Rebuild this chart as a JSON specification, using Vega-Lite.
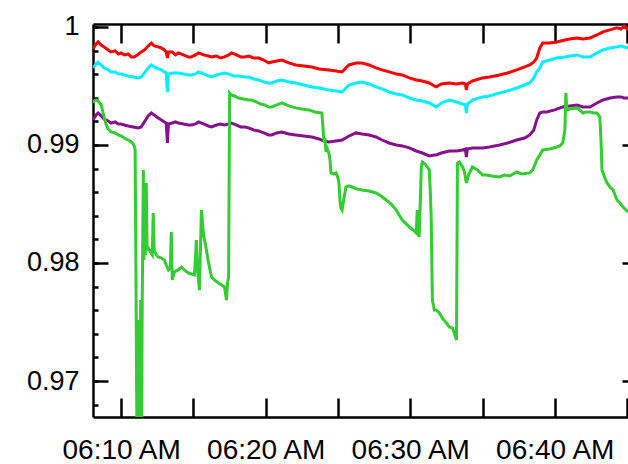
{
  "width": 535,
  "height": 393,
  "autosize": "none",
  "padding": {"left": 93, "top": 24, "right": 0, "bottom": 47},
  "config": {
    "view": {"stroke": null},
    "axis": {"grid": false, "domainColor": "black", "tickColor": "black", "labelColor": "black", "labelFont": "Liberation Sans", "labelFontSize": 27, "domainWidth": 2.5, "tickWidth": 2.5}
  },
  "data": {
    "values": [
      {"s":"r","t":"2020-01-01T06:08:03","v":0.99814},{"s":"r","t":"2020-01-01T06:08:16","v":0.99856},{"s":"r","t":"2020-01-01T06:08:24","v":0.99873},{"s":"r","t":"2020-01-01T06:08:37","v":0.99847},{"s":"r","t":"2020-01-01T06:08:49","v":0.99831},{"s":"r","t":"2020-01-01T06:09:06","v":0.99805},{"s":"r","t":"2020-01-01T06:09:18","v":0.99788},{"s":"r","t":"2020-01-01T06:09:35","v":0.99797},{"s":"r","t":"2020-01-01T06:09:48","v":0.99771},{"s":"r","t":"2020-01-01T06:10:00","v":0.9978},{"s":"r","t":"2020-01-01T06:10:13","v":0.99763},{"s":"r","t":"2020-01-01T06:10:29","v":0.99771},{"s":"r","t":"2020-01-01T06:10:42","v":0.99746},{"s":"r","t":"2020-01-01T06:10:54","v":0.99746},{"s":"r","t":"2020-01-01T06:11:07","v":0.99763},{"s":"r","t":"2020-01-01T06:11:23","v":0.99788},{"s":"r","t":"2020-01-01T06:11:36","v":0.99805},{"s":"r","t":"2020-01-01T06:11:52","v":0.99839},{"s":"r","t":"2020-01-01T06:12:05","v":0.99864},{"s":"r","t":"2020-01-01T06:12:17","v":0.99839},{"s":"r","t":"2020-01-01T06:12:34","v":0.99831},{"s":"r","t":"2020-01-01T06:12:47","v":0.99822},{"s":"r","t":"2020-01-01T06:12:59","v":0.99805},{"s":"r","t":"2020-01-01T06:13:07","v":0.99788},{"s":"r","t":"2020-01-01T06:13:12","v":0.99737},{"s":"r","t":"2020-01-01T06:13:16","v":0.99788},{"s":"r","t":"2020-01-01T06:13:32","v":0.99788},{"s":"r","t":"2020-01-01T06:13:45","v":0.99763},{"s":"r","t":"2020-01-01T06:13:57","v":0.9978},{"s":"r","t":"2020-01-01T06:14:18","v":0.99763},{"s":"r","t":"2020-01-01T06:14:39","v":0.99746},{"s":"r","t":"2020-01-01T06:14:52","v":0.99746},{"s":"r","t":"2020-01-01T06:15:08","v":0.99763},{"s":"r","t":"2020-01-01T06:15:21","v":0.9978},{"s":"r","t":"2020-01-01T06:15:42","v":0.99763},{"s":"r","t":"2020-01-01T06:16:02","v":0.99754},{"s":"r","t":"2020-01-01T06:16:15","v":0.99746},{"s":"r","t":"2020-01-01T06:16:36","v":0.99754},{"s":"r","t":"2020-01-01T06:16:52","v":0.99737},{"s":"r","t":"2020-01-01T06:17:09","v":0.99746},{"s":"r","t":"2020-01-01T06:17:26","v":0.99763},{"s":"r","t":"2020-01-01T06:17:38","v":0.9978},{"s":"r","t":"2020-01-01T06:17:59","v":0.99763},{"s":"r","t":"2020-01-01T06:18:16","v":0.99746},{"s":"r","t":"2020-01-01T06:18:32","v":0.99746},{"s":"r","t":"2020-01-01T06:18:49","v":0.99754},{"s":"r","t":"2020-01-01T06:19:10","v":0.99737},{"s":"r","t":"2020-01-01T06:19:31","v":0.99737},{"s":"r","t":"2020-01-01T06:19:52","v":0.9972},{"s":"r","t":"2020-01-01T06:20:12","v":0.99695},{"s":"r","t":"2020-01-01T06:20:25","v":0.99703},{"s":"r","t":"2020-01-01T06:20:46","v":0.99712},{"s":"r","t":"2020-01-01T06:21:07","v":0.9972},{"s":"r","t":"2020-01-01T06:21:36","v":0.99695},{"s":"r","t":"2020-01-01T06:22:05","v":0.99678},{"s":"r","t":"2020-01-01T06:22:38","v":0.99669},{"s":"r","t":"2020-01-01T06:23:12","v":0.99661},{"s":"r","t":"2020-01-01T06:23:41","v":0.99644},{"s":"r","t":"2020-01-01T06:24:22","v":0.99636},{"s":"r","t":"2020-01-01T06:24:52","v":0.99627},{"s":"r","t":"2020-01-01T06:25:17","v":0.99619},{"s":"r","t":"2020-01-01T06:25:33","v":0.99653},{"s":"r","t":"2020-01-01T06:25:46","v":0.99678},{"s":"r","t":"2020-01-01T06:26:15","v":0.99695},{"s":"r","t":"2020-01-01T06:26:40","v":0.99695},{"s":"r","t":"2020-01-01T06:27:09","v":0.99678},{"s":"r","t":"2020-01-01T06:27:38","v":0.99653},{"s":"r","t":"2020-01-01T06:28:03","v":0.99636},{"s":"r","t":"2020-01-01T06:28:32","v":0.99619},{"s":"r","t":"2020-01-01T06:29:02","v":0.99602},{"s":"r","t":"2020-01-01T06:29:27","v":0.99593},{"s":"r","t":"2020-01-01T06:29:56","v":0.99568},{"s":"r","t":"2020-01-01T06:30:25","v":0.99551},{"s":"r","t":"2020-01-01T06:30:50","v":0.99542},{"s":"r","t":"2020-01-01T06:31:19","v":0.99525},{"s":"r","t":"2020-01-01T06:31:40","v":0.995},{"s":"r","t":"2020-01-01T06:31:48","v":0.99492},{"s":"r","t":"2020-01-01T06:32:09","v":0.99517},{"s":"r","t":"2020-01-01T06:32:42","v":0.99525},{"s":"r","t":"2020-01-01T06:33:12","v":0.99517},{"s":"r","t":"2020-01-01T06:33:37","v":0.99525},{"s":"r","t":"2020-01-01T06:33:49","v":0.99517},{"s":"r","t":"2020-01-01T06:33:53","v":0.99466},{"s":"r","t":"2020-01-01T06:33:57","v":0.99517},{"s":"r","t":"2020-01-01T06:34:18","v":0.99542},{"s":"r","t":"2020-01-01T06:35:00","v":0.99568},{"s":"r","t":"2020-01-01T06:35:29","v":0.99576},{"s":"r","t":"2020-01-01T06:36:11","v":0.99593},{"s":"r","t":"2020-01-01T06:36:44","v":0.9961},{"s":"r","t":"2020-01-01T06:37:22","v":0.99636},{"s":"r","t":"2020-01-01T06:37:55","v":0.99661},{"s":"r","t":"2020-01-01T06:38:16","v":0.99678},{"s":"r","t":"2020-01-01T06:38:33","v":0.99703},{"s":"r","t":"2020-01-01T06:38:45","v":0.99737},{"s":"r","t":"2020-01-01T06:38:58","v":0.99822},{"s":"r","t":"2020-01-01T06:39:10","v":0.99864},{"s":"r","t":"2020-01-01T06:39:39","v":0.99864},{"s":"r","t":"2020-01-01T06:40:08","v":0.99873},{"s":"r","t":"2020-01-01T06:40:42","v":0.9989},{"s":"r","t":"2020-01-01T06:41:02","v":0.99898},{"s":"r","t":"2020-01-01T06:41:32","v":0.99907},{"s":"r","t":"2020-01-01T06:41:57","v":0.99898},{"s":"r","t":"2020-01-01T06:42:26","v":0.99907},{"s":"r","t":"2020-01-01T06:42:55","v":0.99932},{"s":"r","t":"2020-01-01T06:43:20","v":0.99958},{"s":"r","t":"2020-01-01T06:43:49","v":0.99975},{"s":"r","t":"2020-01-01T06:44:18","v":0.99992},{"s":"r","t":"2020-01-01T06:44:35","v":0.99983},{"s":"r","t":"2020-01-01T06:44:47","v":1.00008},{"s":"r","t":"2020-01-01T06:45:04","v":0.99975},
      {"s":"c","t":"2020-01-01T06:08:03","v":0.99653},{"s":"c","t":"2020-01-01T06:08:16","v":0.99686},{"s":"c","t":"2020-01-01T06:08:24","v":0.99703},{"s":"c","t":"2020-01-01T06:08:37","v":0.99678},{"s":"c","t":"2020-01-01T06:08:49","v":0.99653},{"s":"c","t":"2020-01-01T06:09:06","v":0.99636},{"s":"c","t":"2020-01-01T06:09:18","v":0.99619},{"s":"c","t":"2020-01-01T06:09:35","v":0.99619},{"s":"c","t":"2020-01-01T06:09:48","v":0.99602},{"s":"c","t":"2020-01-01T06:10:00","v":0.99602},{"s":"c","t":"2020-01-01T06:10:13","v":0.99593},{"s":"c","t":"2020-01-01T06:10:29","v":0.99585},{"s":"c","t":"2020-01-01T06:10:50","v":0.99576},{"s":"c","t":"2020-01-01T06:11:11","v":0.99568},{"s":"c","t":"2020-01-01T06:11:23","v":0.99576},{"s":"c","t":"2020-01-01T06:11:36","v":0.9961},{"s":"c","t":"2020-01-01T06:11:52","v":0.99653},{"s":"c","t":"2020-01-01T06:12:05","v":0.99678},{"s":"c","t":"2020-01-01T06:12:17","v":0.99661},{"s":"c","t":"2020-01-01T06:12:34","v":0.99644},{"s":"c","t":"2020-01-01T06:12:47","v":0.99636},{"s":"c","t":"2020-01-01T06:12:59","v":0.99619},{"s":"c","t":"2020-01-01T06:13:07","v":0.9961},{"s":"c","t":"2020-01-01T06:13:12","v":0.99449},{"s":"c","t":"2020-01-01T06:13:16","v":0.99602},{"s":"c","t":"2020-01-01T06:13:32","v":0.9961},{"s":"c","t":"2020-01-01T06:13:45","v":0.9961},{"s":"c","t":"2020-01-01T06:13:57","v":0.9961},{"s":"c","t":"2020-01-01T06:14:18","v":0.99602},{"s":"c","t":"2020-01-01T06:14:39","v":0.99593},{"s":"c","t":"2020-01-01T06:14:52","v":0.99593},{"s":"c","t":"2020-01-01T06:15:08","v":0.99602},{"s":"c","t":"2020-01-01T06:15:21","v":0.99619},{"s":"c","t":"2020-01-01T06:15:42","v":0.99602},{"s":"c","t":"2020-01-01T06:16:02","v":0.99585},{"s":"c","t":"2020-01-01T06:16:15","v":0.99576},{"s":"c","t":"2020-01-01T06:16:36","v":0.99593},{"s":"c","t":"2020-01-01T06:16:52","v":0.99602},{"s":"c","t":"2020-01-01T06:17:09","v":0.9961},{"s":"c","t":"2020-01-01T06:17:26","v":0.99602},{"s":"c","t":"2020-01-01T06:17:47","v":0.99585},{"s":"c","t":"2020-01-01T06:18:07","v":0.99585},{"s":"c","t":"2020-01-01T06:18:32","v":0.99576},{"s":"c","t":"2020-01-01T06:18:49","v":0.99576},{"s":"c","t":"2020-01-01T06:19:10","v":0.99559},{"s":"c","t":"2020-01-01T06:19:31","v":0.99551},{"s":"c","t":"2020-01-01T06:19:52","v":0.99534},{"s":"c","t":"2020-01-01T06:20:12","v":0.99525},{"s":"c","t":"2020-01-01T06:20:25","v":0.99525},{"s":"c","t":"2020-01-01T06:20:46","v":0.99542},{"s":"c","t":"2020-01-01T06:21:07","v":0.99551},{"s":"c","t":"2020-01-01T06:21:36","v":0.99534},{"s":"c","t":"2020-01-01T06:22:05","v":0.99525},{"s":"c","t":"2020-01-01T06:22:38","v":0.99508},{"s":"c","t":"2020-01-01T06:23:12","v":0.99492},{"s":"c","t":"2020-01-01T06:23:41","v":0.99483},{"s":"c","t":"2020-01-01T06:24:22","v":0.99466},{"s":"c","t":"2020-01-01T06:24:52","v":0.99458},{"s":"c","t":"2020-01-01T06:25:17","v":0.99449},{"s":"c","t":"2020-01-01T06:25:33","v":0.99483},{"s":"c","t":"2020-01-01T06:25:46","v":0.99508},{"s":"c","t":"2020-01-01T06:26:15","v":0.99525},{"s":"c","t":"2020-01-01T06:26:40","v":0.99534},{"s":"c","t":"2020-01-01T06:27:09","v":0.99517},{"s":"c","t":"2020-01-01T06:27:38","v":0.99492},{"s":"c","t":"2020-01-01T06:28:03","v":0.99475},{"s":"c","t":"2020-01-01T06:28:32","v":0.99449},{"s":"c","t":"2020-01-01T06:29:02","v":0.99432},{"s":"c","t":"2020-01-01T06:29:27","v":0.99424},{"s":"c","t":"2020-01-01T06:29:56","v":0.99398},{"s":"c","t":"2020-01-01T06:30:25","v":0.99381},{"s":"c","t":"2020-01-01T06:30:50","v":0.99373},{"s":"c","t":"2020-01-01T06:31:19","v":0.99356},{"s":"c","t":"2020-01-01T06:31:40","v":0.99331},{"s":"c","t":"2020-01-01T06:31:48","v":0.99322},{"s":"c","t":"2020-01-01T06:32:09","v":0.99356},{"s":"c","t":"2020-01-01T06:32:42","v":0.99381},{"s":"c","t":"2020-01-01T06:33:12","v":0.99364},{"s":"c","t":"2020-01-01T06:33:37","v":0.99347},{"s":"c","t":"2020-01-01T06:33:49","v":0.99339},{"s":"c","t":"2020-01-01T06:33:53","v":0.99271},{"s":"c","t":"2020-01-01T06:33:57","v":0.99347},{"s":"c","t":"2020-01-01T06:34:18","v":0.99381},{"s":"c","t":"2020-01-01T06:35:00","v":0.99407},{"s":"c","t":"2020-01-01T06:35:29","v":0.99415},{"s":"c","t":"2020-01-01T06:36:11","v":0.99441},{"s":"c","t":"2020-01-01T06:36:44","v":0.99458},{"s":"c","t":"2020-01-01T06:37:22","v":0.99483},{"s":"c","t":"2020-01-01T06:37:55","v":0.99508},{"s":"c","t":"2020-01-01T06:38:16","v":0.99525},{"s":"c","t":"2020-01-01T06:38:33","v":0.99568},{"s":"c","t":"2020-01-01T06:38:45","v":0.99619},{"s":"c","t":"2020-01-01T06:38:58","v":0.99653},{"s":"c","t":"2020-01-01T06:39:10","v":0.99703},{"s":"c","t":"2020-01-01T06:39:39","v":0.9972},{"s":"c","t":"2020-01-01T06:40:08","v":0.99737},{"s":"c","t":"2020-01-01T06:40:42","v":0.99746},{"s":"c","t":"2020-01-01T06:41:02","v":0.99754},{"s":"c","t":"2020-01-01T06:41:32","v":0.99763},{"s":"c","t":"2020-01-01T06:41:57","v":0.99746},{"s":"c","t":"2020-01-01T06:42:26","v":0.99746},{"s":"c","t":"2020-01-01T06:42:55","v":0.9978},{"s":"c","t":"2020-01-01T06:43:20","v":0.99805},{"s":"c","t":"2020-01-01T06:43:49","v":0.99822},{"s":"c","t":"2020-01-01T06:44:18","v":0.99831},{"s":"c","t":"2020-01-01T06:44:35","v":0.99839},{"s":"c","t":"2020-01-01T06:44:47","v":0.99831},{"s":"c","t":"2020-01-01T06:45:04","v":0.99822},
      {"s":"p","t":"2020-01-01T06:08:03","v":0.99212},{"s":"p","t":"2020-01-01T06:08:16","v":0.99254},{"s":"p","t":"2020-01-01T06:08:24","v":0.99271},{"s":"p","t":"2020-01-01T06:08:37","v":0.99246},{"s":"p","t":"2020-01-01T06:08:49","v":0.9922},{"s":"p","t":"2020-01-01T06:09:06","v":0.99203},{"s":"p","t":"2020-01-01T06:09:18","v":0.99186},{"s":"p","t":"2020-01-01T06:09:35","v":0.99195},{"s":"p","t":"2020-01-01T06:09:48","v":0.99178},{"s":"p","t":"2020-01-01T06:10:00","v":0.99178},{"s":"p","t":"2020-01-01T06:10:13","v":0.99169},{"s":"p","t":"2020-01-01T06:10:29","v":0.99161},{"s":"p","t":"2020-01-01T06:10:50","v":0.99153},{"s":"p","t":"2020-01-01T06:11:11","v":0.99144},{"s":"p","t":"2020-01-01T06:11:23","v":0.99153},{"s":"p","t":"2020-01-01T06:11:36","v":0.99195},{"s":"p","t":"2020-01-01T06:11:52","v":0.99246},{"s":"p","t":"2020-01-01T06:12:05","v":0.99271},{"s":"p","t":"2020-01-01T06:12:17","v":0.99254},{"s":"p","t":"2020-01-01T06:12:34","v":0.99229},{"s":"p","t":"2020-01-01T06:12:47","v":0.99212},{"s":"p","t":"2020-01-01T06:12:59","v":0.99195},{"s":"p","t":"2020-01-01T06:13:07","v":0.99186},{"s":"p","t":"2020-01-01T06:13:12","v":0.99017},{"s":"p","t":"2020-01-01T06:13:16","v":0.99178},{"s":"p","t":"2020-01-01T06:13:32","v":0.99186},{"s":"p","t":"2020-01-01T06:13:45","v":0.99195},{"s":"p","t":"2020-01-01T06:13:57","v":0.99186},{"s":"p","t":"2020-01-01T06:14:18","v":0.99178},{"s":"p","t":"2020-01-01T06:14:39","v":0.99169},{"s":"p","t":"2020-01-01T06:14:52","v":0.99169},{"s":"p","t":"2020-01-01T06:15:08","v":0.99178},{"s":"p","t":"2020-01-01T06:15:21","v":0.99195},{"s":"p","t":"2020-01-01T06:15:42","v":0.99178},{"s":"p","t":"2020-01-01T06:16:02","v":0.99161},{"s":"p","t":"2020-01-01T06:16:15","v":0.99153},{"s":"p","t":"2020-01-01T06:16:36","v":0.99169},{"s":"p","t":"2020-01-01T06:16:52","v":0.99178},{"s":"p","t":"2020-01-01T06:17:09","v":0.99169},{"s":"p","t":"2020-01-01T06:17:26","v":0.99178},{"s":"p","t":"2020-01-01T06:17:38","v":0.99186},{"s":"p","t":"2020-01-01T06:17:59","v":0.99169},{"s":"p","t":"2020-01-01T06:18:16","v":0.99153},{"s":"p","t":"2020-01-01T06:18:32","v":0.99153},{"s":"p","t":"2020-01-01T06:18:49","v":0.99144},{"s":"p","t":"2020-01-01T06:19:10","v":0.99127},{"s":"p","t":"2020-01-01T06:19:31","v":0.99119},{"s":"p","t":"2020-01-01T06:19:52","v":0.99102},{"s":"p","t":"2020-01-01T06:20:12","v":0.99085},{"s":"p","t":"2020-01-01T06:20:25","v":0.99085},{"s":"p","t":"2020-01-01T06:20:46","v":0.99102},{"s":"p","t":"2020-01-01T06:21:07","v":0.9911},{"s":"p","t":"2020-01-01T06:21:36","v":0.99093},{"s":"p","t":"2020-01-01T06:22:05","v":0.99085},{"s":"p","t":"2020-01-01T06:22:38","v":0.99076},{"s":"p","t":"2020-01-01T06:23:12","v":0.99068},{"s":"p","t":"2020-01-01T06:23:41","v":0.99051},{"s":"p","t":"2020-01-01T06:24:02","v":0.99034},{"s":"p","t":"2020-01-01T06:24:22","v":0.99025},{"s":"p","t":"2020-01-01T06:24:52","v":0.99034},{"s":"p","t":"2020-01-01T06:25:17","v":0.99042},{"s":"p","t":"2020-01-01T06:25:46","v":0.99076},{"s":"p","t":"2020-01-01T06:26:15","v":0.99102},{"s":"p","t":"2020-01-01T06:26:40","v":0.99093},{"s":"p","t":"2020-01-01T06:27:09","v":0.99085},{"s":"p","t":"2020-01-01T06:27:38","v":0.99068},{"s":"p","t":"2020-01-01T06:28:03","v":0.99042},{"s":"p","t":"2020-01-01T06:28:32","v":0.99017},{"s":"p","t":"2020-01-01T06:29:02","v":0.99},{"s":"p","t":"2020-01-01T06:29:27","v":0.98992},{"s":"p","t":"2020-01-01T06:29:56","v":0.98975},{"s":"p","t":"2020-01-01T06:30:25","v":0.98949},{"s":"p","t":"2020-01-01T06:30:50","v":0.98932},{"s":"p","t":"2020-01-01T06:31:19","v":0.98907},{"s":"p","t":"2020-01-01T06:31:40","v":0.98915},{"s":"p","t":"2020-01-01T06:31:48","v":0.98915},{"s":"p","t":"2020-01-01T06:32:09","v":0.98932},{"s":"p","t":"2020-01-01T06:32:42","v":0.98949},{"s":"p","t":"2020-01-01T06:33:12","v":0.98949},{"s":"p","t":"2020-01-01T06:33:37","v":0.98958},{"s":"p","t":"2020-01-01T06:33:49","v":0.98966},{"s":"p","t":"2020-01-01T06:33:53","v":0.98898},{"s":"p","t":"2020-01-01T06:33:57","v":0.98966},{"s":"p","t":"2020-01-01T06:34:18","v":0.98975},{"s":"p","t":"2020-01-01T06:35:00","v":0.98975},{"s":"p","t":"2020-01-01T06:35:29","v":0.98983},{"s":"p","t":"2020-01-01T06:36:11","v":0.99},{"s":"p","t":"2020-01-01T06:36:44","v":0.99017},{"s":"p","t":"2020-01-01T06:37:22","v":0.99042},{"s":"p","t":"2020-01-01T06:37:55","v":0.99059},{"s":"p","t":"2020-01-01T06:38:16","v":0.99085},{"s":"p","t":"2020-01-01T06:38:33","v":0.99127},{"s":"p","t":"2020-01-01T06:38:45","v":0.99212},{"s":"p","t":"2020-01-01T06:38:58","v":0.99271},{"s":"p","t":"2020-01-01T06:39:10","v":0.9928},{"s":"p","t":"2020-01-01T06:39:27","v":0.9928},{"s":"p","t":"2020-01-01T06:40:00","v":0.99297},{"s":"p","t":"2020-01-01T06:40:33","v":0.99322},{"s":"p","t":"2020-01-01T06:41:02","v":0.99331},{"s":"p","t":"2020-01-01T06:41:32","v":0.99339},{"s":"p","t":"2020-01-01T06:41:57","v":0.99322},{"s":"p","t":"2020-01-01T06:42:26","v":0.99322},{"s":"p","t":"2020-01-01T06:42:55","v":0.99356},{"s":"p","t":"2020-01-01T06:43:20","v":0.99381},{"s":"p","t":"2020-01-01T06:43:49","v":0.99398},{"s":"p","t":"2020-01-01T06:44:18","v":0.99407},{"s":"p","t":"2020-01-01T06:44:35","v":0.99407},{"s":"p","t":"2020-01-01T06:44:47","v":0.99398},{"s":"p","t":"2020-01-01T06:45:04","v":0.99398},
      {"s":"g","t":"2020-01-01T06:08:03","v":0.99356},{"s":"g","t":"2020-01-01T06:08:08","v":0.99373},{"s":"g","t":"2020-01-01T06:08:16","v":0.99381},{"s":"g","t":"2020-01-01T06:08:24","v":0.99373},{"s":"g","t":"2020-01-01T06:08:37","v":0.99339},{"s":"g","t":"2020-01-01T06:08:45","v":0.99271},{"s":"g","t":"2020-01-01T06:08:58","v":0.99169},{"s":"g","t":"2020-01-01T06:09:06","v":0.99136},{"s":"g","t":"2020-01-01T06:09:18","v":0.9911},{"s":"g","t":"2020-01-01T06:09:35","v":0.99102},{"s":"g","t":"2020-01-01T06:09:48","v":0.99085},{"s":"g","t":"2020-01-01T06:10:00","v":0.99076},{"s":"g","t":"2020-01-01T06:10:13","v":0.99059},{"s":"g","t":"2020-01-01T06:10:29","v":0.99042},{"s":"g","t":"2020-01-01T06:10:42","v":0.99025},{"s":"g","t":"2020-01-01T06:10:50","v":0.99008},{"s":"g","t":"2020-01-01T06:10:54","v":0.98992},{"s":"g","t":"2020-01-01T06:10:58","v":0.98958},{"s":"g","t":"2020-01-01T06:11:02","v":0.97686},{"s":"g","t":"2020-01-01T06:11:05","v":0.96627},{"s":"g","t":"2020-01-01T06:11:07","v":0.96585},{"s":"g","t":"2020-01-01T06:11:11","v":0.97517},{"s":"g","t":"2020-01-01T06:11:13","v":0.96627},{"s":"g","t":"2020-01-01T06:11:15","v":0.97432},{"s":"g","t":"2020-01-01T06:11:19","v":0.96585},{"s":"g","t":"2020-01-01T06:11:21","v":0.97686},{"s":"g","t":"2020-01-01T06:11:23","v":0.97432},{"s":"g","t":"2020-01-01T06:11:25","v":0.96585},{"s":"g","t":"2020-01-01T06:11:27","v":0.97559},{"s":"g","t":"2020-01-01T06:11:32","v":0.98788},{"s":"g","t":"2020-01-01T06:11:34","v":0.98025},{"s":"g","t":"2020-01-01T06:11:36","v":0.9811},{"s":"g","t":"2020-01-01T06:11:38","v":0.98661},{"s":"g","t":"2020-01-01T06:11:40","v":0.98068},{"s":"g","t":"2020-01-01T06:11:44","v":0.98678},{"s":"g","t":"2020-01-01T06:11:48","v":0.9811},{"s":"g","t":"2020-01-01T06:11:52","v":0.98127},{"s":"g","t":"2020-01-01T06:12:01","v":0.98093},{"s":"g","t":"2020-01-01T06:12:09","v":0.98068},{"s":"g","t":"2020-01-01T06:12:13","v":0.98424},{"s":"g","t":"2020-01-01T06:12:17","v":0.9811},{"s":"g","t":"2020-01-01T06:12:26","v":0.98068},{"s":"g","t":"2020-01-01T06:12:34","v":0.98051},{"s":"g","t":"2020-01-01T06:12:47","v":0.98042},{"s":"g","t":"2020-01-01T06:12:59","v":0.98025},{"s":"g","t":"2020-01-01T06:13:07","v":0.97983},{"s":"g","t":"2020-01-01T06:13:16","v":0.97941},{"s":"g","t":"2020-01-01T06:13:24","v":0.97958},{"s":"g","t":"2020-01-01T06:13:28","v":0.98263},{"s":"g","t":"2020-01-01T06:13:32","v":0.97856},{"s":"g","t":"2020-01-01T06:13:41","v":0.97924},{"s":"g","t":"2020-01-01T06:13:57","v":0.97941},{"s":"g","t":"2020-01-01T06:14:10","v":0.97966},{"s":"g","t":"2020-01-01T06:14:22","v":0.97941},{"s":"g","t":"2020-01-01T06:14:39","v":0.97915},{"s":"g","t":"2020-01-01T06:14:52","v":0.97907},{"s":"g","t":"2020-01-01T06:15:04","v":0.97898},{"s":"g","t":"2020-01-01T06:15:08","v":0.98025},{"s":"g","t":"2020-01-01T06:15:12","v":0.98195},{"s":"g","t":"2020-01-01T06:15:17","v":0.97941},{"s":"g","t":"2020-01-01T06:15:25","v":0.97771},{"s":"g","t":"2020-01-01T06:15:29","v":0.9811},{"s":"g","t":"2020-01-01T06:15:33","v":0.98449},{"s":"g","t":"2020-01-01T06:15:42","v":0.98237},{"s":"g","t":"2020-01-01T06:15:54","v":0.9811},{"s":"g","t":"2020-01-01T06:16:02","v":0.98008},{"s":"g","t":"2020-01-01T06:16:15","v":0.97881},{"s":"g","t":"2020-01-01T06:16:27","v":0.97856},{"s":"g","t":"2020-01-01T06:16:44","v":0.97831},{"s":"g","t":"2020-01-01T06:16:57","v":0.97814},{"s":"g","t":"2020-01-01T06:17:09","v":0.97797},{"s":"g","t":"2020-01-01T06:17:17","v":0.97686},{"s":"g","t":"2020-01-01T06:17:22","v":0.97839},{"s":"g","t":"2020-01-01T06:17:26","v":0.97881},{"s":"g","t":"2020-01-01T06:17:30","v":0.99441},{"s":"g","t":"2020-01-01T06:17:38","v":0.99424},{"s":"g","t":"2020-01-01T06:17:51","v":0.99415},{"s":"g","t":"2020-01-01T06:18:07","v":0.99398},{"s":"g","t":"2020-01-01T06:18:28","v":0.9939},{"s":"g","t":"2020-01-01T06:18:49","v":0.99381},{"s":"g","t":"2020-01-01T06:19:02","v":0.99381},{"s":"g","t":"2020-01-01T06:19:22","v":0.99364},{"s":"g","t":"2020-01-01T06:19:39","v":0.99347},{"s":"g","t":"2020-01-01T06:19:56","v":0.99339},{"s":"g","t":"2020-01-01T06:20:12","v":0.99322},{"s":"g","t":"2020-01-01T06:20:25","v":0.99322},{"s":"g","t":"2020-01-01T06:20:46","v":0.99339},{"s":"g","t":"2020-01-01T06:21:07","v":0.99356},{"s":"g","t":"2020-01-01T06:21:36","v":0.99331},{"s":"g","t":"2020-01-01T06:22:05","v":0.99314},{"s":"g","t":"2020-01-01T06:22:30","v":0.99305},{"s":"g","t":"2020-01-01T06:22:59","v":0.99297},{"s":"g","t":"2020-01-01T06:23:24","v":0.9928},{"s":"g","t":"2020-01-01T06:23:53","v":0.99271},{"s":"g","t":"2020-01-01T06:23:57","v":0.99169},{"s":"g","t":"2020-01-01T06:24:02","v":0.99025},{"s":"g","t":"2020-01-01T06:24:06","v":0.99059},{"s":"g","t":"2020-01-01T06:24:10","v":0.98941},{"s":"g","t":"2020-01-01T06:24:14","v":0.98975},{"s":"g","t":"2020-01-01T06:24:22","v":0.98932},{"s":"g","t":"2020-01-01T06:24:27","v":0.98873},{"s":"g","t":"2020-01-01T06:24:31","v":0.98763},{"s":"g","t":"2020-01-01T06:24:43","v":0.98754},{"s":"g","t":"2020-01-01T06:24:52","v":0.98763},{"s":"g","t":"2020-01-01T06:25:00","v":0.9872},{"s":"g","t":"2020-01-01T06:25:04","v":0.98678},{"s":"g","t":"2020-01-01T06:25:08","v":0.98534},{"s":"g","t":"2020-01-01T06:25:12","v":0.98466},{"s":"g","t":"2020-01-01T06:25:17","v":0.98449},{"s":"g","t":"2020-01-01T06:25:25","v":0.98551},{"s":"g","t":"2020-01-01T06:25:33","v":0.98644},{"s":"g","t":"2020-01-01T06:25:46","v":0.98653},{"s":"g","t":"2020-01-01T06:25:58","v":0.98644},{"s":"g","t":"2020-01-01T06:26:19","v":0.98627},{"s":"g","t":"2020-01-01T06:26:40","v":0.98619},{"s":"g","t":"2020-01-01T06:27:09","v":0.9861},{"s":"g","t":"2020-01-01T06:27:38","v":0.98593},{"s":"g","t":"2020-01-01T06:27:59","v":0.98568},{"s":"g","t":"2020-01-01T06:28:20","v":0.98534},{"s":"g","t":"2020-01-01T06:28:41","v":0.985},{"s":"g","t":"2020-01-01T06:29:02","v":0.98449},{"s":"g","t":"2020-01-01T06:29:14","v":0.98407},{"s":"g","t":"2020-01-01T06:29:27","v":0.98364},{"s":"g","t":"2020-01-01T06:29:43","v":0.98331},{"s":"g","t":"2020-01-01T06:29:56","v":0.98305},{"s":"g","t":"2020-01-01T06:30:12","v":0.9828},{"s":"g","t":"2020-01-01T06:30:25","v":0.98254},{"s":"g","t":"2020-01-01T06:30:29","v":0.98449},{"s":"g","t":"2020-01-01T06:30:33","v":0.98263},{"s":"g","t":"2020-01-01T06:30:37","v":0.9822},{"s":"g","t":"2020-01-01T06:30:42","v":0.98534},{"s":"g","t":"2020-01-01T06:30:46","v":0.98814},{"s":"g","t":"2020-01-01T06:30:50","v":0.98856},{"s":"g","t":"2020-01-01T06:31:02","v":0.98839},{"s":"g","t":"2020-01-01T06:31:19","v":0.98788},{"s":"g","t":"2020-01-01T06:31:23","v":0.98619},{"s":"g","t":"2020-01-01T06:31:27","v":0.9839},{"s":"g","t":"2020-01-01T06:31:32","v":0.97686},{"s":"g","t":"2020-01-01T06:31:40","v":0.97602},{"s":"g","t":"2020-01-01T06:31:48","v":0.97602},{"s":"g","t":"2020-01-01T06:32:01","v":0.97576},{"s":"g","t":"2020-01-01T06:32:13","v":0.97534},{"s":"g","t":"2020-01-01T06:32:30","v":0.97492},{"s":"g","t":"2020-01-01T06:32:42","v":0.97458},{"s":"g","t":"2020-01-01T06:32:55","v":0.97449},{"s":"g","t":"2020-01-01T06:33:03","v":0.97407},{"s":"g","t":"2020-01-01T06:33:12","v":0.97347},{"s":"g","t":"2020-01-01T06:33:16","v":0.98847},{"s":"g","t":"2020-01-01T06:33:24","v":0.98856},{"s":"g","t":"2020-01-01T06:33:37","v":0.98814},{"s":"g","t":"2020-01-01T06:33:45","v":0.98771},{"s":"g","t":"2020-01-01T06:33:53","v":0.98678},{"s":"g","t":"2020-01-01T06:34:02","v":0.98746},{"s":"g","t":"2020-01-01T06:34:18","v":0.98814},{"s":"g","t":"2020-01-01T06:34:39","v":0.98788},{"s":"g","t":"2020-01-01T06:35:00","v":0.98746},{"s":"g","t":"2020-01-01T06:35:17","v":0.98746},{"s":"g","t":"2020-01-01T06:35:38","v":0.98737},{"s":"g","t":"2020-01-01T06:36:11","v":0.98729},{"s":"g","t":"2020-01-01T06:36:32","v":0.98746},{"s":"g","t":"2020-01-01T06:36:53","v":0.98737},{"s":"g","t":"2020-01-01T06:37:22","v":0.98771},{"s":"g","t":"2020-01-01T06:37:43","v":0.98754},{"s":"g","t":"2020-01-01T06:38:16","v":0.98763},{"s":"g","t":"2020-01-01T06:38:28","v":0.98788},{"s":"g","t":"2020-01-01T06:38:37","v":0.98831},{"s":"g","t":"2020-01-01T06:38:45","v":0.98873},{"s":"g","t":"2020-01-01T06:38:58","v":0.98915},{"s":"g","t":"2020-01-01T06:39:10","v":0.98958},{"s":"g","t":"2020-01-01T06:39:39","v":0.98966},{"s":"g","t":"2020-01-01T06:40:08","v":0.98983},{"s":"g","t":"2020-01-01T06:40:21","v":0.98992},{"s":"g","t":"2020-01-01T06:40:33","v":0.99017},{"s":"g","t":"2020-01-01T06:40:42","v":0.99127},{"s":"g","t":"2020-01-01T06:40:46","v":0.99441},{"s":"g","t":"2020-01-01T06:40:50","v":0.99297},{"s":"g","t":"2020-01-01T06:41:02","v":0.99305},{"s":"g","t":"2020-01-01T06:41:32","v":0.99314},{"s":"g","t":"2020-01-01T06:41:44","v":0.99297},{"s":"g","t":"2020-01-01T06:41:57","v":0.99271},{"s":"g","t":"2020-01-01T06:42:13","v":0.9928},{"s":"g","t":"2020-01-01T06:42:26","v":0.9928},{"s":"g","t":"2020-01-01T06:42:42","v":0.99271},{"s":"g","t":"2020-01-01T06:42:55","v":0.99271},{"s":"g","t":"2020-01-01T06:43:07","v":0.99237},{"s":"g","t":"2020-01-01T06:43:12","v":0.99042},{"s":"g","t":"2020-01-01T06:43:16","v":0.98788},{"s":"g","t":"2020-01-01T06:43:28","v":0.9872},{"s":"g","t":"2020-01-01T06:43:37","v":0.98678},{"s":"g","t":"2020-01-01T06:43:49","v":0.98644},{"s":"g","t":"2020-01-01T06:44:02","v":0.98619},{"s":"g","t":"2020-01-01T06:44:10","v":0.98576},{"s":"g","t":"2020-01-01T06:44:18","v":0.98534},{"s":"g","t":"2020-01-01T06:44:31","v":0.98508},{"s":"g","t":"2020-01-01T06:44:43","v":0.98475},{"s":"g","t":"2020-01-01T06:45:04","v":0.98432}
    ]
  },
  "resolve": {"axis": {"x": "independent", "y": "independent"}},
  "layer": [
    {
      "mark": {"type": "line", "strokeWidth": 3, "clip": true},
      "encoding": {
        "x": {"field": "t", "type": "temporal", "title": null,
          "scale": {"nice": false},
          "axis": {"orient": "bottom", "ticks": false, "tickCount": 8, "labelExpr": "minutes(datum.value) % 10 == 0 ? timeFormat(datum.value, '%I:%M %p') : ''", "labelPadding": 19, "labelFontSize": 28}},
        "y": {"field": "v", "type": "quantitative", "title": null,
          "scale": {"domain": [0.96695, 1.00025], "nice": false, "zero": false},
          "axis": {"orient": "left", "ticks": false, "values": [0.97, 0.98, 0.99, 1], "format": ".2~f", "labelPadding": 14}},
        "color": {"field": "s", "type": "nominal", "legend": null,
          "scale": {"domain": ["r", "c", "p", "g"], "range": ["#ff0000", "#00f0ff", "#85128a", "#33cc33"]}}
      }
    },
    {
      "transform": [{"filter": "datum.s == 'r'"}],
      "mark": {"type": "point", "opacity": 0},
      "encoding": {
        "x": {"field": "t", "type": "temporal", "title": null, "axis": {"orient": "bottom", "labels": false, "domain": false, "tickCount": 8, "tickSize": -19}},
        "y": {"field": "v", "type": "quantitative", "title": null, "axis": {"orient": "left", "labels": false, "domain": false, "values": [0.97, 0.98, 0.99, 1], "tickSize": -15}}
      }
    },
    {
      "transform": [{"filter": "datum.s == 'r'"}],
      "mark": {"type": "point", "opacity": 0},
      "encoding": {
        "x": {"field": "t", "type": "temporal", "title": null, "axis": {"orient": "top", "labels": false, "tickCount": 8, "tickSize": -19}},
        "y": {"field": "v", "type": "quantitative", "title": null, "axis": {"orient": "left", "labels": false, "domain": false, "values": [0.968, 0.97, 0.972, 0.974, 0.976, 0.978, 0.98, 0.982, 0.984, 0.986, 0.988, 0.99, 0.992, 0.994, 0.996, 0.998, 1], "tickSize": -5}}
      }
    },
    {
      "transform": [{"filter": "datum.s == 'r'"}],
      "mark": {"type": "point", "opacity": 0},
      "encoding": {
        "x": {"field": "t", "type": "temporal", "axis": null},
        "y": {"field": "v", "type": "quantitative", "title": null, "axis": {"orient": "right", "labels": false, "domain": false, "values": [0.97, 0.98, 0.99, 1], "tickSize": -6}}
      }
    }
  ]
}
